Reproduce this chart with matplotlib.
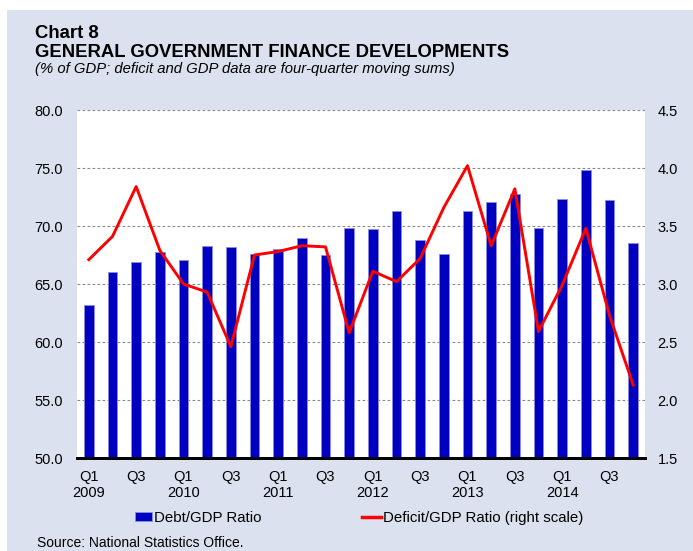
import matplotlib.pyplot as plt
from matplotlib.lines import Line2D
from matplotlib.patches import Patch

plt.rcParams['font.family'] = ['Liberation Sans', 'DejaVu Sans']

# data
quarters = ['Q1', 'Q2', 'Q3', 'Q4'] * 6
years = [2009, 2010, 2011, 2012, 2013, 2014]
debt_ratio = [63.2, 66.0, 66.9, 67.8, 67.1, 68.3, 68.2, 67.6, 68.0, 69.0, 67.5, 69.8,
              69.7, 71.3, 68.8, 67.6, 71.3, 72.1, 72.8, 69.8, 72.3, 74.8, 72.2, 68.5]
deficit_ratio = [3.21, 3.41, 3.84, 3.29, 3.00, 2.93, 2.46, 3.25, 3.28, 3.33, 3.32, 2.58,
                 3.11, 3.02, 3.22, 3.66, 4.02, 3.33, 3.82, 2.59, 2.99, 3.48, 2.73, 2.13]

W, H = 693, 551

# figure
bg = '#dbe1ee'
fig = plt.figure(figsize=(W / 100, H / 100), dpi=100, facecolor='white')
fig.patches.append(plt.Rectangle((7 / W, 0), 1, 1 - 9.5 / H, transform=fig.transFigure,
                                 facecolor=bg, edgecolor='none', zorder=-10))
ax = fig.add_axes([77 / W, 1 - 458 / H, 568 / W, 348 / H])
ax2 = ax.twinx()

x = list(range(len(debt_ratio)))
ax.bar(x, debt_ratio, width=0.4, color='#0000c0', edgecolor='#8c8ce6', linewidth=0.6, zorder=3)
ax2.plot(x, deficit_ratio, color='#ff0000', linewidth=2.1, zorder=4)

# appearance
ax.set_xlim(-0.5, len(x) - 0.5)
ax.set_ylim(50, 80)
ax2.set_ylim(1.5, 4.5)
ax.set_yticks([50, 55, 60, 65, 70, 75, 80])
ax.set_yticklabels(['%.1f' % v for v in ax.get_yticks()])
ax2.set_yticks([1.5, 2.0, 2.5, 3.0, 3.5, 4.0, 4.5])
ax2.set_yticklabels(['%.1f' % v for v in ax2.get_yticks()])
for v in [55, 60, 65, 70, 75, 80]:
    ax.axhline(v, color='#8a8a8a', linestyle=(0, (2.5, 2)), linewidth=0.8, zorder=1)

xlabels = []
for i, q in enumerate(quarters):
    if q == 'Q1':
        xlabels.append('Q1\n%d' % years[i // 4])
    elif q == 'Q3':
        xlabels.append('Q3')
    else:
        xlabels.append('')
ax.set_xticks(x)
ax.set_xticklabels(xlabels, fontsize=10.5, va='top', linespacing=1.2)

for a in (ax, ax2):
    for s in ('left', 'right', 'top'):
        a.spines[s].set_visible(False)
    a.spines['bottom'].set_linewidth(2)
    a.spines['bottom'].set_color('black')
    a.tick_params(length=0, labelsize=10.5)
ax.tick_params(axis='y', pad=10)
ax2.tick_params(axis='y', pad=9)
ax.tick_params(axis='x', pad=8.5)
ax.set_facecolor('white')

# titles
fig.text(35 / W, 1 - 38 / H, 'Chart 8', fontsize=13.3, fontweight='bold', va='baseline')
fig.text(35 / W, 1 - 57 / H, 'GENERAL GOVERNMENT FINANCE DEVELOPMENTS', fontsize=13.3,
         fontweight='bold', va='baseline')
fig.text(35 / W, 1 - 73.5 / H, '(% of GDP; deficit and GDP data are four-quarter moving sums)',
         fontsize=10.7, style='italic', va='baseline')
fig.text(37 / W, 1 - 547 / H, 'Source: National Statistics Office.', fontsize=10,
         va='baseline')

# legend
leg1 = fig.legend([Patch(facecolor='#0000c0', edgecolor='#8c8ce6', linewidth=0.6)],
                  ['Debt/GDP Ratio'], loc='center left', bbox_to_anchor=(135 / W, 1 - 518 / H),
                  frameon=False, fontsize=10.8, handlelength=1.15, handleheight=0.55,
                  handletextpad=0.1, borderpad=0, borderaxespad=0)
leg2 = fig.legend([Line2D([], [], color='#ff0000', linewidth=2.5)],
                  ['Deficit/GDP Ratio (right scale)'], loc='center left',
                  bbox_to_anchor=(361.5 / W, 1 - 518 / H), frameon=False, fontsize=10.8,
                  handlelength=1.3, handletextpad=0.1, borderpad=0, borderaxespad=0)

fig.savefig('out.png', dpi=100, facecolor=fig.get_facecolor())
